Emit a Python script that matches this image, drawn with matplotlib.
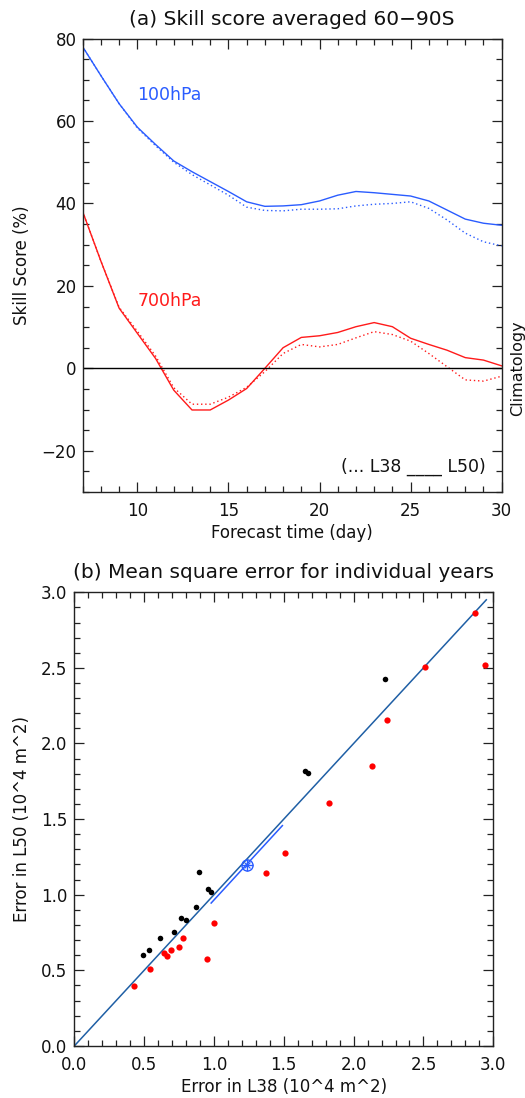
import matplotlib
matplotlib.use("Agg")
import matplotlib.pyplot as plt
import matplotlib.transforms as mtransforms
from matplotlib.ticker import MultipleLocator, FormatStrFormatter

# ---------------- data ----------------
days = [7, 8, 9, 10, 11, 12, 13, 14, 15, 16, 17, 18, 19, 20, 21, 22, 23, 24, 25, 26, 27, 28, 29, 30]

hpa100_L50 = [78.0, 71.0, 64.2, 58.5, 54.3, 50.3, 47.7, 45.3, 42.9, 40.4, 39.3, 39.4, 39.7, 40.6, 42.0, 42.9,
              42.6, 42.2, 41.8, 40.6, 38.4, 36.2, 35.2, 34.7]
hpa100_L38 = [78.0, 71.0, 64.2, 58.3, 54.0, 50.0, 47.0, 44.5, 42.0, 39.1, 38.3, 38.2, 38.6, 38.6, 38.7, 39.4,
              39.8, 40.0, 40.4, 38.8, 36.0, 32.8, 30.7, 29.7]

hpa700_L50 = [38.0, 26.0, 14.6, 8.5, 2.4, -5.3, -10.1, -10.1, -7.7, -4.9, 0.0, 5.0, 7.5, 7.9, 8.7, 10.1,
              11.1, 10.1, 7.3, 5.8, 4.4, 2.6, 2.0, 0.6]
hpa700_L38 = [38.0, 26.0, 14.8, 9.0, 3.0, -4.7, -8.7, -8.7, -7.0, -4.6, -0.8, 3.6, 5.8, 5.2, 5.8, 7.4,
              8.9, 8.2, 6.6, 3.6, 0.4, -2.8, -3.1, -1.9]

black_L38 = [2.224, 1.651, 1.675, 0.890, 0.955, 0.976, 0.873, 0.766, 0.797, 0.714, 0.613, 0.535, 0.494]
black_L50 = [2.427, 1.819, 1.806, 1.149, 1.038, 1.018, 0.917, 0.849, 0.835, 0.752, 0.712, 0.635, 0.600]

red_L38 = [2.238, 2.510, 2.871, 2.942, 2.131, 1.821, 1.506, 1.374, 1.002, 0.776, 0.747, 0.690, 0.644,
           0.661, 0.952, 0.542, 0.427]
red_L50 = [2.158, 2.505, 2.862, 2.518, 1.852, 1.607, 1.276, 1.144, 0.811, 0.716, 0.655, 0.637, 0.617,
           0.593, 0.572, 0.509, 0.399]

diag_x = [0.0, 2.95]
diag_y = [0.0, 2.95]
fit_x = [0.98, 1.49]
fit_y = [0.945, 1.457]
mean_x = [1.234]
mean_y = [1.197]

# ---------------- style ----------------
plt.rcParams['font.family'] = ['DejaVu Sans']
BLUE = '#2a5cff'
RED = '#ff1a1a'
DIAG = '#1f5fa5'
AXC = '#222222'
TXT = '#111111'

fig = plt.figure(figsize=(5.25, 10.98), dpi=100)


def style_axes(ax, ypad):
    for s in ax.spines.values():
        s.set_color(AXC)
        s.set_linewidth(1.0)
    ax.tick_params(which='both', direction='in', top=True, right=True, colors=AXC,
                   labelcolor=TXT, labelsize=12, width=0.9)
    ax.tick_params(which='major', length=7)
    ax.tick_params(which='minor', length=4)
    ax.tick_params(axis='x', which='major', pad=7)
    ax.tick_params(axis='y', which='major', pad=ypad)


def place_labels(ax, ylab_x):
    ax.xaxis.label.set_verticalalignment('center')
    ax.xaxis.set_label_coords(0.5, -0.09)
    ax.yaxis.label.set_verticalalignment('center')
    ax.yaxis.set_label_coords(ylab_x, 0.5)


# ---------------- panel (a) ----------------
ax1 = fig.add_axes([0.1575, 0.5519, 0.7981, 0.4130])
ax1.plot(days, hpa100_L50, color=BLUE, lw=1.0, ls='-')
ax1.plot(days, hpa100_L38, color=BLUE, lw=1.0, ls=(0, (1, 2)))
ax1.plot(days, hpa700_L50, color=RED, lw=1.0, ls='-')
ax1.plot(days, hpa700_L38, color=RED, lw=1.0, ls=(0, (1, 2)))
ax1.axhline(0, color='black', lw=1.0)
ax1.set_xlim(7, 30)
ax1.set_ylim(-30, 80)
ax1.xaxis.set_major_locator(MultipleLocator(5))
ax1.xaxis.set_minor_locator(MultipleLocator(1))
ax1.yaxis.set_minor_locator(MultipleLocator(5))
ax1.set_yticks([-20, 0, 20, 40, 60, 80])
ax1.set_yticklabels(['\u221220', '0', '20', '40', '60', '80'])
style_axes(ax1, 4.5)
ax1.set_title('(a) Skill score averaged 60\u221290S', fontsize=14.5, pad=10, color=TXT)
ax1.set_xlabel('Forecast time (day)', fontsize=12, color=TXT)
ax1.set_ylabel('Skill Score (%)', fontsize=12, color=TXT)
place_labels(ax1, -0.145)
ax1.text(10.0, 66.3, '100hPa', color=BLUE, fontsize=12.5, ha='left', va='center')
ax1.text(10.0, 16.4, '700hPa', color=RED, fontsize=12.5, ha='left', va='center')
ax1.text(29.1, -23.9, '(... L38 ____ L50)', color=TXT, fontsize=12.5, ha='right', va='center')
trans = mtransforms.blended_transform_factory(ax1.transAxes, ax1.transData)
ax1.text(1.037, 0, 'Climatology', transform=trans, rotation=90, ha='center', va='center',
         fontsize=11.5, color=TXT)

# ---------------- panel (b) ----------------
ax2 = fig.add_axes([0.1415, 0.0474, 0.7981, 0.4132])
ax2.plot(diag_x, diag_y, color=DIAG, lw=1.1)
ax2.plot(fit_x, fit_y, color=BLUE, lw=1.1)
ax2.plot(black_L38, black_L50, 'o', color='black', ms=4, mec='none')
ax2.plot(red_L38, red_L50, 'o', color='red', ms=4.5, mec='none')
ax2.plot(mean_x, mean_y, 'o', mfc='none', mec=BLUE, ms=8, mew=1.0)
ax2.plot(mean_x, mean_y, '+', color=BLUE, ms=8, mew=1.0)
ax2.plot(mean_x, mean_y, 'x', color=BLUE, ms=5, mew=0.8)
ax2.set_xlim(0, 3)
ax2.set_ylim(0, 3)
ax2.xaxis.set_major_locator(MultipleLocator(0.5))
ax2.xaxis.set_minor_locator(MultipleLocator(0.1))
ax2.yaxis.set_major_locator(MultipleLocator(0.5))
ax2.yaxis.set_minor_locator(MultipleLocator(0.1))
ax2.xaxis.set_major_formatter(FormatStrFormatter('%.1f'))
ax2.yaxis.set_major_formatter(FormatStrFormatter('%.1f'))
style_axes(ax2, 5)
ax2.set_title('(b) Mean square error for individual years', fontsize=14.5, pad=10, color=TXT)
ax2.set_xlabel('Error in L38 (10^4 m^2)', fontsize=12, color=TXT)
ax2.set_ylabel('Error in L50 (10^4 m^2)', fontsize=12, color=TXT)
place_labels(ax2, -0.125)

fig.savefig('out.png', dpi=100)
